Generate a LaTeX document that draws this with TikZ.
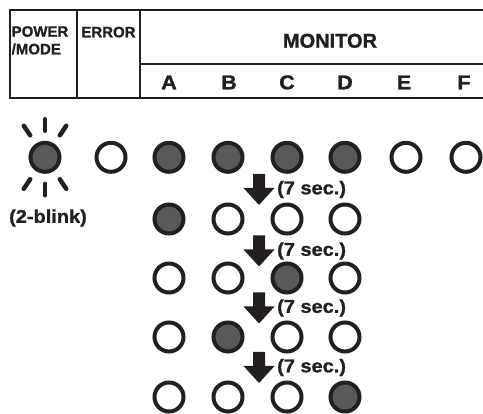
\documentclass[tikz,border=0pt]{standalone}
\usepackage{fontspec}
\setmainfont{Liberation Sans}
\newfontfamily\heavy{Liberation Sans Bold}[FakeBold=1.2]
\newfontfamily\heavywide{Liberation Sans Bold}[FakeBold=1.2,FakeStretch=1.08]
\definecolor{ink}{HTML}{231F20}
\definecolor{ledon}{HTML}{58595B}
\begin{document}
\begin{tikzpicture}[x=1pt,y=-1pt,
  led/.style={circle,draw=ink,line width=4pt,minimum size=29pt,inner sep=0pt,fill=white},
  ledlit/.style={led,fill=ledon},
  gridline/.style={draw=ink,line width=2pt},
  hdr/.style={font=\fontsize{15}{15}\selectfont\heavy,inner sep=0pt,text=ink},
  big/.style={font=\fontsize{20}{20}\selectfont\heavy,inner sep=0pt,text=ink},
  col/.style={font=\fontsize{20}{20}\selectfont\heavywide,inner sep=0pt,text=ink},
  lbl/.style={font=\fontsize{18.5}{18.5}\selectfont\heavywide,inner sep=0pt,text=ink},
  ray/.style={draw=ink,line width=4.5pt,line cap=round},
  arrowdn/.pic={\fill[ink] (-6,-15.5) -- (6,-15.5) -- (6,-1.5) -- (15.5,-1.5) -- (0,15.5) -- (-15.5,-1.5) -- (-6,-1.5) -- cycle;}
]
\useasboundingbox (0,0) rectangle (483,414);
% table
\draw[gridline] (483,10) -- (10,10) -- (10,98) -- (483,98);
\draw[gridline] (77,10) -- (77,98);
\draw[gridline] (140,10) -- (140,98);
\draw[gridline] (140,64.5) -- (483,64.5);
\node[hdr,anchor=base west] (pw1) at (11.5,36.7) {POWER};
\node[hdr,anchor=base west] (pw2) at (11.5,54.3) {/MODE};
\node[hdr,anchor=base] (err) at (108.5,37.3) {ERROR};
\node[big,anchor=base] (mon) at (330,47.7) {MONITOR};
\node[col,anchor=base] (ca) at (169,89.3) {A};
\node[col,anchor=base] (cb) at (229,89.3) {B};
\node[col,anchor=base] (cc) at (287,89.3) {C};
\node[col,anchor=base] (cd) at (345,89.3) {D};
\node[col,anchor=base] (ce) at (404,89.3) {E};
\node[col,anchor=base] (cf) at (464,89.3) {F};
% row 1
\node[ledlit] (p1) at (45,157.3) {};
\node[led] (e1) at (111,157.3) {};
\node[ledlit] (a1) at (169,157.3) {};
\node[ledlit] (b1) at (228,157.3) {};
\node[ledlit] (c1) at (287,157.3) {};
\node[ledlit] (d1) at (345,157.3) {};
\node[led] (ee1) at (406,157.3) {};
\node[led] (f1) at (466,157.3) {};
\foreach \a in {56,90,124,236,270,304}
  \draw[ray] (p1.center) ++(\a:26.5) -- ++(\a:11.5);
\node[lbl] (blink) at (48,218) {(2-blink)};
% row 2
\node[ledlit] (a2) at (169,219) {};
\node[led] (b2) at (228,219) {};
\node[led] (c2) at (287,219) {};
\node[led] (d2) at (345,219) {};
% row 3
\node[led] (a3) at (169,278) {};
\node[led] (b3) at (228,278) {};
\node[ledlit] (c3) at (287,278) {};
\node[led] (d3) at (345,278) {};
% row 4
\node[led] (a4) at (169,337) {};
\node[ledlit] (b4) at (228,337) {};
\node[led] (c4) at (287,337) {};
\node[led] (d4) at (345,337) {};
% row 5
\node[led] (a5) at (169,397) {};
\node[led] (b5) at (228,397) {};
\node[led] (c5) at (287,397) {};
\node[ledlit] (d5) at (345,397) {};
% arrows
\coordinate (ar1) at (259,189.5);
\coordinate (ar2) at (259,251);
\coordinate (ar3) at (259,308);
\coordinate (ar4) at (259,367.5);
\pic at (ar1) {arrowdn};
\pic at (ar2) {arrowdn};
\pic at (ar3) {arrowdn};
\pic at (ar4) {arrowdn};
\node[lbl,anchor=west] (s1) at (277,189.5) {(7 sec.)};
\node[lbl,anchor=west] (s2) at (277,251) {(7 sec.)};
\node[lbl,anchor=west] (s3) at (277,308) {(7 sec.)};
\node[lbl,anchor=west] (s4) at (277,367.5) {(7 sec.)};
\end{tikzpicture}
\end{document}
